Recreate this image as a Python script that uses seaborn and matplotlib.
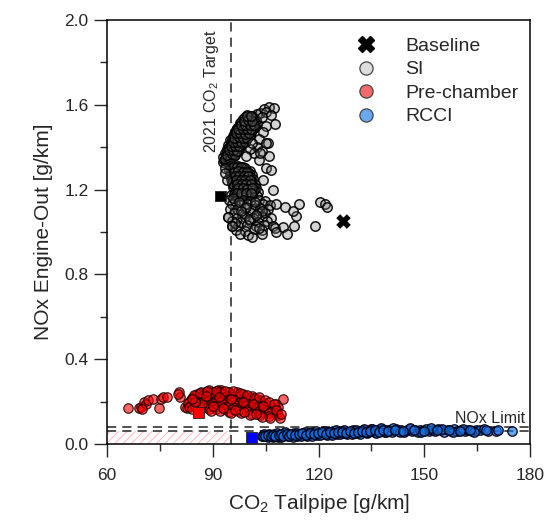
import matplotlib
matplotlib.use("Agg")
import matplotlib.pyplot as plt
import seaborn as sns
import pandas as pd
from matplotlib.patches import Rectangle
from matplotlib.lines import Line2D

# ---------------- data ----------------
baseline_x = [127.0]
baseline_y = [1.05]

si_points = [
    # upper dense arm
    (92.8, 1.330), (93.6, 1.334), (93.0, 1.352), (94.2, 1.348), (95.3, 1.355),
    (93.5, 1.372), (94.6, 1.368), (95.8, 1.375), (96.6, 1.370),
    (93.9, 1.392), (95.0, 1.388), (96.2, 1.395), (97.3, 1.390),
    (94.4, 1.412), (95.5, 1.408), (96.8, 1.414), (97.9, 1.409),
    (94.9, 1.432), (96.1, 1.428), (97.3, 1.434), (98.6, 1.429), (99.5, 1.433),
    (95.6, 1.452), (96.7, 1.448), (97.9, 1.454), (99.0, 1.449), (100.2, 1.452),
    (96.2, 1.472), (97.4, 1.468), (98.5, 1.474), (99.7, 1.469), (100.9, 1.472),
    (96.9, 1.492), (98.1, 1.488), (99.3, 1.494), (100.5, 1.489), (101.8, 1.492),
    (97.6, 1.512), (98.8, 1.508), (100.0, 1.514), (101.3, 1.509), (102.6, 1.512),
    (98.5, 1.532), (99.7, 1.528), (101.0, 1.534), (102.3, 1.529),
    (99.6, 1.552), (101.0, 1.548), (102.4, 1.554),
    (93.2, 1.340), (94.4, 1.342), (93.6, 1.360), (94.8, 1.362), (95.9, 1.358),
    (94.0, 1.380), (95.2, 1.382), (96.3, 1.378), (97.0, 1.381),
    (94.5, 1.400), (95.7, 1.402), (96.9, 1.398), (97.8, 1.401),
    (95.0, 1.420), (96.2, 1.422), (97.4, 1.418), (98.5, 1.421),
    (95.5, 1.440), (96.8, 1.442), (98.0, 1.438), (99.2, 1.441),
    (96.0, 1.460), (97.2, 1.462), (98.4, 1.458), (99.6, 1.461), (100.5, 1.459),
    (96.6, 1.480), (97.8, 1.482), (99.0, 1.478), (100.2, 1.481), (101.2, 1.479),
    (97.3, 1.500), (98.5, 1.502), (99.7, 1.498), (100.9, 1.501), (102.0, 1.499),
    (98.0, 1.520), (99.2, 1.522), (100.5, 1.518), (101.7, 1.521),
    (99.0, 1.540), (100.3, 1.542), (101.6, 1.538),
    (93.5, 1.345), (94.8, 1.346), (94.1, 1.365), (95.3, 1.366), (96.2, 1.364),
    (94.6, 1.385), (95.7, 1.386), (96.8, 1.384), (95.0, 1.405), (96.2, 1.406),
    (97.4, 1.404), (95.6, 1.425), (96.7, 1.426), (97.9, 1.424), (99.0, 1.425),
    (96.1, 1.445), (97.3, 1.446), (98.5, 1.444), (99.7, 1.445), (96.6, 1.465),
    (97.8, 1.466), (99.1, 1.464), (100.2, 1.465), (97.2, 1.485), (98.4, 1.486),
    (99.6, 1.484), (100.8, 1.485), (97.9, 1.505), (99.1, 1.506), (100.4, 1.504),
    (101.6, 1.505), (98.7, 1.525), (99.9, 1.526), (101.2, 1.524), (99.6, 1.545),
    (100.8, 1.546),
    # upper light points
    (103.5, 1.560), (104.5, 1.580), (106.0, 1.590), (107.2, 1.585), (105.2, 1.565),
    (103.8, 1.540), (106.5, 1.550), (107.5, 1.510), (105.0, 1.500), (104.2, 1.470),
    (105.5, 1.420), (103.2, 1.440), (102.5, 1.400), (104.0, 1.380), (106.0, 1.360),
    (103.0, 1.340), (101.8, 1.370), (100.5, 1.390), (99.5, 1.360), (101.0, 1.420),
    # middle dense
    (94.8, 1.310), (96.0, 1.306), (97.2, 1.312), (98.5, 1.308),
    (94.5, 1.292), (95.6, 1.288), (96.8, 1.294), (98.0, 1.289), (99.3, 1.293), (100.5, 1.288),
    (94.9, 1.272), (96.1, 1.268), (97.4, 1.274), (98.6, 1.269), (99.8, 1.273), (101.1, 1.268),
    (95.2, 1.252), (96.4, 1.248), (97.7, 1.254), (98.9, 1.249), (100.2, 1.253), (101.5, 1.248),
    (95.5, 1.232), (96.8, 1.228), (98.0, 1.234), (99.3, 1.229), (100.6, 1.233), (101.9, 1.228),
    (95.8, 1.212), (97.1, 1.208), (98.4, 1.214), (99.7, 1.209), (101.0, 1.213), (102.3, 1.208),
    (96.2, 1.192), (97.5, 1.188), (98.8, 1.194), (100.1, 1.189), (101.4, 1.193), (102.7, 1.188),
    (95.0, 1.172), (96.6, 1.168), (98.0, 1.174), (99.5, 1.169), (101.0, 1.173), (102.5, 1.168),
    (95.2, 1.300), (96.5, 1.302), (97.8, 1.298), (99.0, 1.301),
    (95.2, 1.280), (96.4, 1.282), (97.7, 1.278), (99.0, 1.281), (100.2, 1.279),
    (95.5, 1.260), (96.8, 1.262), (98.0, 1.258), (99.2, 1.261), (100.5, 1.259),
    (95.8, 1.240), (97.0, 1.242), (98.3, 1.238), (99.6, 1.241), (100.9, 1.239),
    (96.1, 1.220), (97.4, 1.222), (98.7, 1.218), (100.0, 1.221), (101.3, 1.219),
    (96.5, 1.200), (97.8, 1.202), (99.1, 1.198), (100.4, 1.201), (101.7, 1.199),
    (96.0, 1.180), (97.2, 1.182), (98.5, 1.178), (99.8, 1.181), (101.2, 1.179),
    (95.6, 1.305), (96.9, 1.306), (98.0, 1.304), (95.9, 1.285), (97.1, 1.286),
    (98.4, 1.284), (99.6, 1.285), (96.3, 1.265), (97.5, 1.266), (98.8, 1.264),
    (100.0, 1.265), (96.6, 1.245), (97.9, 1.246), (99.1, 1.244), (100.4, 1.245),
    (96.9, 1.225), (98.2, 1.226), (99.5, 1.224), (100.8, 1.225), (97.2, 1.205),
    (98.5, 1.206), (99.8, 1.204), (101.1, 1.205), (96.8, 1.185), (98.1, 1.186),
    (99.4, 1.184), (100.7, 1.185),
    # lower medium
    (94.6, 1.150), (96.3, 1.146), (98.5, 1.152), (100.6, 1.147), (103.0, 1.151), (104.8, 1.146),
    (95.4, 1.130), (97.6, 1.126), (99.8, 1.132), (102.0, 1.127), (104.1, 1.131), (106.2, 1.126),
    (94.8, 1.110), (96.9, 1.106), (99.1, 1.112), (101.3, 1.107), (103.5, 1.111), (105.6, 1.106),
    (95.9, 1.090), (98.2, 1.086), (100.4, 1.092), (102.7, 1.087), (104.9, 1.091),
    (94.3, 1.070), (96.8, 1.066), (99.0, 1.072), (101.5, 1.067), (103.8, 1.071), (106.4, 1.066),
    (95.5, 1.050), (98.0, 1.046), (100.5, 1.052), (102.9, 1.047), (105.3, 1.051),
    (95.3, 1.030), (97.2, 1.026), (99.6, 1.032), (102.2, 1.027), (104.6, 1.031), (107.0, 1.026),
    (96.5, 1.010), (99.0, 1.006), (101.6, 1.012), (104.0, 1.007),
    (97.6, 0.990), (100.0, 0.986), (103.8, 0.990), (101.0, 0.978),
    (95.6, 1.160), (97.4, 1.140), (99.4, 1.120), (101.9, 1.140), (103.9, 1.100),
    (97.9, 1.100), (100.2, 1.060), (102.2, 1.080), (96.2, 1.040), (103.1, 1.020),
    # outliers
    (107.5, 1.020), (108.0, 1.000), (109.9, 1.025), (111.0, 0.990), (113.0, 1.030),
    (113.7, 1.075), (112.7, 1.100), (114.4, 1.130), (110.4, 1.120), (108.0, 1.130),
    (107.1, 1.200), (104.2, 1.245), (105.2, 1.300), (106.6, 1.290), (120.3, 1.140),
    (121.7, 1.130), (122.4, 1.120), (119.1, 1.030), (103.3, 1.370), (105.2, 1.420),
    (93.4, 1.300), (93.9, 1.245), (93.4, 1.277), (95.3, 1.030), (94.3, 1.070),
]

pc_points = [
    # left sparse
    (66.0, 0.168), (68.9, 0.168), (69.5, 0.176), (70.3, 0.197), (71.0, 0.190),
    (71.7, 0.207), (72.9, 0.212), (74.8, 0.171), (75.2, 0.212), (75.8, 0.223),
    (76.9, 0.223), (80.4, 0.247), (80.7, 0.223), (80.2, 0.235), (82.1, 0.176),
    (69.8, 0.165), (82.6, 0.168),
    # dense
    (89.0, 0.255), (91.5, 0.257), (92.3, 0.253),
    (86.5, 0.245), (88.0, 0.247), (90.0, 0.243), (92.0, 0.246), (94.5, 0.244), (96.7, 0.247),
    (85.5, 0.235), (87.5, 0.237), (89.2, 0.233), (91.0, 0.236), (93.0, 0.234), (95.0, 0.237),
    (97.0, 0.233), (98.5, 0.236),
    (85.0, 0.225), (86.8, 0.227), (88.6, 0.223), (90.4, 0.226), (92.2, 0.224), (94.0, 0.227),
    (95.8, 0.223), (97.6, 0.226), (99.5, 0.224), (101.0, 0.227),
    (84.2, 0.215), (86.0, 0.217), (87.8, 0.213), (89.6, 0.216), (91.4, 0.214), (93.2, 0.217),
    (95.0, 0.213), (96.8, 0.216), (98.6, 0.214), (100.4, 0.217), (102.5, 0.213),
    (83.5, 0.205), (85.3, 0.207), (87.1, 0.203), (88.9, 0.206), (90.7, 0.204), (92.5, 0.207),
    (94.3, 0.203), (96.1, 0.206), (97.9, 0.204), (99.7, 0.207), (101.5, 0.203), (103.5, 0.206),
    (83.0, 0.195), (84.8, 0.197), (86.6, 0.193), (88.4, 0.196), (90.2, 0.194), (92.0, 0.197),
    (93.8, 0.193), (95.6, 0.196), (97.4, 0.194), (99.2, 0.197), (101.0, 0.193), (102.8, 0.196),
    (104.6, 0.194),
    (83.8, 0.185), (85.6, 0.187), (87.4, 0.183), (89.2, 0.186), (91.0, 0.184), (92.8, 0.187),
    (94.6, 0.183), (96.4, 0.186), (98.2, 0.184), (100.0, 0.187), (101.8, 0.183), (103.6, 0.186),
    (105.4, 0.184),
    (83.2, 0.175), (85.0, 0.177), (86.8, 0.173), (88.6, 0.176), (90.4, 0.174), (92.2, 0.177),
    (94.0, 0.173), (95.8, 0.176), (97.6, 0.174), (99.4, 0.177), (101.2, 0.173), (103.0, 0.176),
    (104.8, 0.174), (106.5, 0.177),
    (84.0, 0.165), (86.5, 0.167), (88.8, 0.163), (91.0, 0.166), (93.2, 0.164), (95.4, 0.167),
    (97.6, 0.163), (99.8, 0.166), (102.0, 0.164), (104.2, 0.167), (106.0, 0.163), (107.5, 0.166),
    (89.5, 0.155), (92.0, 0.157), (94.5, 0.153), (97.0, 0.156), (99.5, 0.154), (102.0, 0.157),
    (104.5, 0.153), (106.8, 0.156), (108.3, 0.154),
    (95.0, 0.145), (98.0, 0.147), (101.0, 0.143), (103.5, 0.146), (105.8, 0.144), (107.8, 0.147),
    (100.5, 0.135), (103.5, 0.137), (106.0, 0.133), (108.5, 0.136),
    (106.2, 0.125), (109.0, 0.122),
    (109.9, 0.213), (107.8, 0.190), (108.5, 0.175),
    (84.5, 0.230), (86.2, 0.240), (88.2, 0.250), (90.8, 0.252), (93.5, 0.248),
    (95.8, 0.250), (97.8, 0.242), (99.8, 0.232), (101.8, 0.218), (103.0, 0.222),
    (104.8, 0.208), (106.0, 0.198), (107.2, 0.188), (108.0, 0.160), (109.3, 0.140),
    (104.0, 0.128), (102.3, 0.140), (98.8, 0.150), (96.2, 0.160), (92.8, 0.170),
    (90.0, 0.180), (87.0, 0.190), (85.0, 0.200), (84.0, 0.210), (87.9, 0.228),
    (91.8, 0.220), (95.2, 0.210), (98.5, 0.200), (101.5, 0.190), (104.2, 0.180),
]

rcci_points = [
    (103.8, 0.036), (105.0, 0.040), (105.5, 0.034), (106.2, 0.043), (106.8, 0.037),
    (107.3, 0.047), (107.9, 0.040), (108.4, 0.035), (109.0, 0.045), (109.6, 0.039),
    (110.1, 0.050), (110.7, 0.042), (111.2, 0.036), (111.8, 0.047), (112.4, 0.041),
    (112.9, 0.052), (113.5, 0.044), (114.0, 0.038), (114.6, 0.049), (115.1, 0.043),
    (115.7, 0.054), (116.3, 0.046), (116.8, 0.040), (117.4, 0.051), (117.9, 0.045),
    (118.5, 0.056), (119.0, 0.048), (119.6, 0.042), (120.2, 0.053), (120.7, 0.047),
    (121.3, 0.058), (121.8, 0.050), (122.4, 0.044), (123.0, 0.055), (123.5, 0.049),
    (124.1, 0.060), (124.6, 0.052), (125.2, 0.046), (125.8, 0.057), (126.3, 0.051),
    (126.9, 0.062), (127.4, 0.054), (128.0, 0.048), (128.6, 0.059), (129.1, 0.053),
    (129.7, 0.064), (130.3, 0.056), (130.8, 0.050), (131.4, 0.061), (132.0, 0.055),
    (132.6, 0.066), (133.2, 0.058), (133.7, 0.052), (134.3, 0.063), (134.9, 0.070),
    (135.5, 0.060), (136.1, 0.055), (136.8, 0.066), (137.4, 0.061), (138.0, 0.071),
    (138.7, 0.057), (139.3, 0.064), (140.0, 0.068), (140.7, 0.059), (141.4, 0.065),
    (142.1, 0.072), (142.8, 0.061), (143.5, 0.067), (144.3, 0.058), (145.0, 0.064),
    (145.8, 0.070), (146.5, 0.062), (147.3, 0.066), (148.1, 0.059), (148.9, 0.068),
    (149.7, 0.063), (150.5, 0.071), (151.3, 0.060), (152.2, 0.066), (153.0, 0.062),
    (153.9, 0.069), (154.8, 0.064), (155.7, 0.059), (156.6, 0.067), (157.5, 0.063),
    (158.5, 0.070), (159.4, 0.061), (160.4, 0.066), (161.4, 0.063), (162.4, 0.068),
    (163.5, 0.062), (164.6, 0.066), (165.7, 0.064), (166.9, 0.069), (168.1, 0.063),
    (170.3, 0.063), (171.0, 0.067), (174.9, 0.061),
    (104.5, 0.045), (105.8, 0.047), (107.0, 0.033), (108.1, 0.050), (109.3, 0.032),
    (110.4, 0.055), (111.5, 0.044), (112.7, 0.034), (113.8, 0.054), (114.9, 0.037),
    (116.0, 0.058), (117.1, 0.048), (118.2, 0.039), (119.3, 0.060), (120.4, 0.041),
    (121.5, 0.062), (122.7, 0.052), (123.8, 0.043), (124.9, 0.064), (126.0, 0.045),
    (127.1, 0.066), (128.3, 0.057), (129.4, 0.046), (130.5, 0.068), (131.7, 0.049),
    (132.9, 0.070), (134.0, 0.057), (135.2, 0.072), (136.4, 0.052), (137.7, 0.074),
    (139.0, 0.055), (141.0, 0.074), (143.0, 0.055), (146.0, 0.074), (149.0, 0.056),
    (152.0, 0.074), (155.0, 0.072), (158.0, 0.058), (161.0, 0.072), (164.0, 0.058),
    (104.2, 0.040), (104.9, 0.036), (105.6, 0.042), (106.4, 0.038), (107.1, 0.044),
    (107.7, 0.036), (108.7, 0.041), (109.4, 0.047), (110.0, 0.040), (111.0, 0.046),
    (111.6, 0.039), (112.2, 0.049), (113.2, 0.043), (114.3, 0.046), (115.4, 0.050),
    (116.5, 0.044), (117.6, 0.053), (118.8, 0.047), (119.8, 0.051), (121.0, 0.055),
    (122.1, 0.048), (123.3, 0.058), (124.4, 0.050), (125.5, 0.055), (126.6, 0.059),
    (127.8, 0.052), (128.9, 0.061), (130.0, 0.054), (131.1, 0.058), (132.3, 0.062),
    (133.5, 0.055), (134.6, 0.060), (136.0, 0.064), (137.1, 0.058), (138.4, 0.066),
    (139.8, 0.061), (141.8, 0.066), (144.0, 0.062), (147.0, 0.064), (150.0, 0.060),
    (153.5, 0.065), (157.0, 0.066), (160.0, 0.060), (163.0, 0.064), (167.5, 0.066),
]

# optimum (square) points
opt_labels = ["SI", "Pre-chamber", "RCCI"]
opt_x = [92.2, 86.0, 101.0]
opt_y = [1.17, 0.15, 0.032]

co2_target = 95.0
nox_limits = [0.06, 0.08]

x_ticks = [60, 90, 120, 150, 180]
y_ticks = [0.0, 0.4, 0.8, 1.2, 1.6, 2.0]

# ---------------- style ----------------
sns.set_style("ticks")
plt.rcParams["font.family"] = ["Liberation Sans", "DejaVu Sans"]
plt.rcParams["mathtext.fontset"] = "custom"
plt.rcParams["mathtext.rm"] = "Liberation Sans"
plt.rcParams["mathtext.it"] = "Liberation Sans"
plt.rcParams["hatch.linewidth"] = 0.6

fig = plt.figure(figsize=(5.47, 5.23), dpi=100)
ax = fig.add_axes([0.196, 0.151, 0.773, 0.811])

si_df = pd.DataFrame(si_points, columns=["x", "y"])
pc_df = pd.DataFrame(pc_points, columns=["x", "y"])
rc_df = pd.DataFrame(rcci_points, columns=["x", "y"])

ms = 46
series = [
    (si_df, "SI", (0.45, 0.45, 0.45, 0.3), (0, 0, 0, 0.9), 1.1),
    (pc_df, "Pre-chamber", (1.0, 0.0, 0.0, 0.6), (0.12, 0, 0, 0.85), 0.9),
    (rc_df, "RCCI", (0.10, 0.45, 0.90, 0.65), (0, 0, 0.08, 0.9), 1.0),
]
for df, lab, fc, ec, lw in series:
    sns.scatterplot(data=df, x="x", y="y", ax=ax, s=ms, color=fc[:3],
                    edgecolor=ec, linewidth=lw, legend=False, zorder=3)
    coll = ax.collections[-1]
    coll.set_facecolor(fc)
    coll.set_edgecolor(ec)

opt_df = pd.DataFrame({"x": opt_x, "y": opt_y, "c": opt_labels})
sns.scatterplot(data=opt_df, x="x", y="y", hue="c", ax=ax, marker="s", s=60,
                palette={"SI": "black", "Pre-chamber": "#ff0000", "RCCI": "#0000ff"},
                edgecolor="#222222", linewidth=0.6, legend=False, zorder=5)

base_df = pd.DataFrame({"x": baseline_x, "y": baseline_y})
sns.scatterplot(data=base_df, x="x", y="y", ax=ax, marker="X", s=95, color="black",
                edgecolor="black", linewidth=0.5, legend=False, zorder=5)

# reference lines / region
ax.axvline(co2_target, color="#222222", linestyle=(0, (6, 4)), linewidth=1.1, zorder=2)
for v in nox_limits:
    ax.axhline(v, color="#222222", linestyle=(0, (6, 4)), linewidth=1.1, zorder=2)
ax.add_patch(Rectangle((60, 0), co2_target - 60, nox_limits[0], fill=False,
                       hatch="////", edgecolor="#ffb0b0", linewidth=0, zorder=1))

ax.text(89.5, 1.955, "2021 CO$_2$ Target", rotation=90, ha="center", va="top", fontsize=11.5)
ax.text(178.6, 0.086, "NOx Limit", ha="right", va="bottom", fontsize=11.5)

ax.set_xlim(60, 180)
ax.set_ylim(0, 2.0)
ax.set_xticks(x_ticks)
ax.set_yticks(y_ticks)
ax.set_xticks([75, 105, 135, 165], minor=True)
ax.set_yticks([0.2, 0.6, 1.0, 1.4, 1.8], minor=True)
ax.set_yticklabels([f"{v:.1f}" for v in y_ticks])
ax.tick_params(axis="both", which="major", direction="out", length=9.5, width=1,
               labelsize=12.5)
ax.tick_params(axis="x", which="major", pad=8)
ax.tick_params(axis="y", which="major", pad=4)
ax.tick_params(axis="both", which="minor", direction="out", length=5, width=1)
for sp in ax.spines.values():
    sp.set_visible(True)
    sp.set_linewidth(1.1)
    sp.set_color("black")

ax.set_xlabel("CO$_2$ Tailpipe [g/km]", fontsize=15, labelpad=6)
ax.set_ylabel("NOx Engine-Out [g/km]", fontsize=15, labelpad=8)

leg_handles = [
    Line2D([], [], linestyle="none", marker="X", markersize=11, color="black"),
    Line2D([], [], linestyle="none", marker="o", markersize=9.5,
           markerfacecolor="#dcdcdc", markeredgecolor="#444444", markeredgewidth=0.9),
    Line2D([], [], linestyle="none", marker="o", markersize=9.5,
           markerfacecolor="#f26a6a", markeredgecolor="#444444", markeredgewidth=0.9),
    Line2D([], [], linestyle="none", marker="o", markersize=9.5,
           markerfacecolor="#6aa8ee", markeredgecolor="#444444", markeredgewidth=0.9),
]
ax.legend(leg_handles, ["Baseline", "SI", "Pre-chamber", "RCCI"], loc="upper left",
          bbox_to_anchor=(0.525, 1.0), frameon=False, fontsize=14,
          handletextpad=1.0, labelspacing=0.3)

fig.savefig("out.png", dpi=100)
